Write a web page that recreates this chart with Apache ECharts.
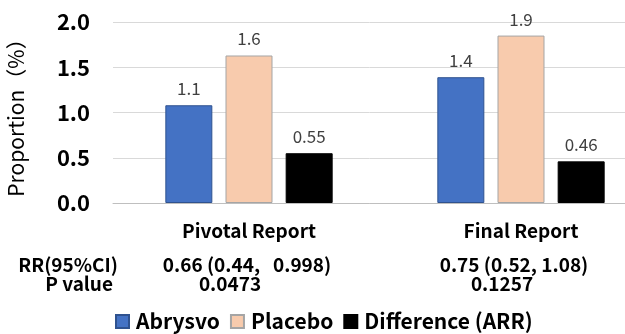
<!DOCTYPE html>
<html>
<head>
<meta charset="utf-8">
<script src="https://cdn.jsdelivr.net/npm/echarts@6/dist/echarts.min.js"></script>
<style>
html,body{margin:0;padding:0;background:#fff;}
#chart{width:625px;height:334px;}
</style>
</head>
<body>
<div id="chart"></div>
<script>
var categories = ['Pivotal Report', 'Final Report'];
var seriesNames = ['Abrysvo', 'Placebo', 'Difference (ARR)'];
var abrysvo = [1.08, 1.39];
var placebo = [1.63, 1.85];
var difference = [0.55, 0.46];
var abrysvoLabels = ['1.1', '1.4'];
var placeboLabels = ['1.6', '1.9'];
var differenceLabels = ['0.55', '0.46'];
var yTicks = [0, 0.5, 1.0, 1.5, 2.0];
var rowTitles = ['RR(95%CI)', 'P value'];
var rrValues = ['0.66 (0.44,   0.998)', '0.75 (0.52, 1.08)'];
var pValues = ['0.0473', '0.1257'];

var FONT = '"Noto Sans CJK JP", "Noto Sans", sans-serif';
var chart = echarts.init(document.getElementById('chart'), null, {renderer: 'canvas'});

function mkSeries(name, data, labels, color, border) {
  return {
    name: name, type: 'bar', data: data,
    barWidth: 47, barGap: '28%',
    itemStyle: {color: color, borderColor: border, borderWidth: 1},
    label: {
      show: true, position: 'top', distance: 8,
      fontFamily: FONT, fontSize: 17, color: '#404040',
      formatter: function (p) { return labels[p.dataIndex]; }
    }
  };
}

var graphics = [];
var rowY = [265, 284];
var titleRight = [118, 113];
rowTitles.forEach(function (t, i) {
  graphics.push({type: 'text', x: titleRight[i], y: rowY[i],
    style: {text: t, font: 'bold 19px ' + FONT, fill: '#000', align: 'right', verticalAlign: 'middle'}});
});
var rrCenters = [247, 514];
var pCenters = [230, 502];
rrValues.forEach(function (t, i) {
  graphics.push({type: 'text', x: rrCenters[i], y: rowY[0],
    style: {text: t, font: 'bold 19px ' + FONT, fill: '#000', align: 'center', verticalAlign: 'middle'}});
});
pValues.forEach(function (t, i) {
  graphics.push({type: 'text', x: pCenters[i], y: rowY[1],
    style: {text: t, font: 'bold 19px ' + FONT, fill: '#000', align: 'center', verticalAlign: 'middle'}});
});

chart.setOption({
  animation: false,
  backgroundColor: '#fff',
  grid: {left: 113, right: -32, top: 22, bottom: 131, outerBoundsMode: 'none', containLabel: false},
  legend: {
    left: 110, top: 306, itemWidth: 13, itemHeight: 13, itemGap: 10,
    icon: 'rect',
    textStyle: {fontFamily: FONT, fontSize: 21, fontWeight: 'bold', color: '#000', padding: [0, 0, 0, 2]},
    data: seriesNames
  },
  xAxis: {
    type: 'category', data: categories,
    axisTick: {show: false},
    axisLine: {lineStyle: {color: '#BFBFBF', width: 1}},
    axisLabel: {fontFamily: FONT, fontSize: 19, fontWeight: 'bold', color: '#000', margin: 18}
  },
  yAxis: {
    type: 'value', min: 0, max: 2, interval: 0.5,
    name: 'Proportion（%）', nameLocation: 'middle', nameGap: 86, nameRotate: 90,
    nameTextStyle: {fontFamily: FONT, fontSize: 21, color: '#000', fontWeight: 'normal'},
    axisLabel: {fontFamily: FONT, fontSize: 22, fontWeight: 'bold', color: '#000', margin: 23,
      formatter: function (v) { return v.toFixed(1); }},
    splitLine: {lineStyle: {color: '#D9D9D9'}},
    axisLine: {show: false}, axisTick: {show: false}
  },
  series: [
    mkSeries(seriesNames[0], abrysvo, abrysvoLabels, '#4472C4', '#2F528F'),
    mkSeries(seriesNames[1], placebo, placeboLabels, '#F8CBAD', '#A5A5A5'),
    mkSeries(seriesNames[2], difference, differenceLabels, '#000000', '#000000')
  ],
  graphic: graphics
});
</script>
</body>
</html>
